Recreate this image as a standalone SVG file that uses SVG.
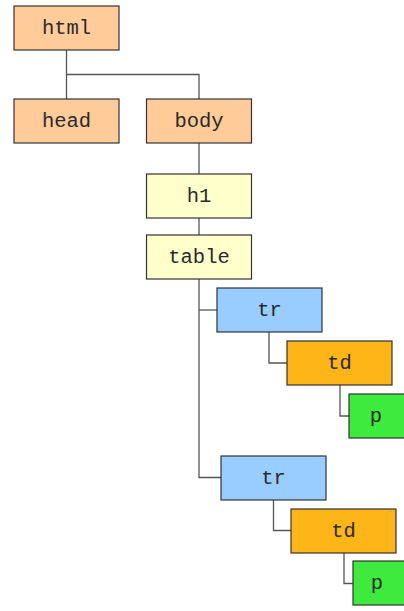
<svg xmlns="http://www.w3.org/2000/svg" width="404" height="611" viewBox="0 0 404 611">
<style>
  .box { stroke: #333; stroke-width: 1.2; }
  .peach { fill: #FFCC99; }
  .yellow { fill: #FFFFCC; }
  .blue { fill: #99CCFF; }
  .orange { fill: #FDB518; }
  .green { fill: #3DEA3D; }
  .lbl { font-family: "Liberation Mono", "Courier New", monospace; font-size: 20.5px; fill: #2a2a2a; text-anchor: middle; dominant-baseline: central; }
  .conn { fill: none; stroke: #555; stroke-width: 1.3; }
</style>
<rect width="404" height="611" fill="#fff"/>
<g id="connectors">
  <path class="conn" d="M66.5 50 V74.5 H199 V99"/>
  <path class="conn" d="M66.5 74.5 V99"/>
  <path class="conn" d="M199 143 V174"/>
  <path class="conn" d="M199 218 V235"/>
  <path class="conn" d="M199 279 V477.5 H221"/>
  <path class="conn" d="M199 310 H217"/>
  <path class="conn" d="M269 332 V363 H287"/>
  <path class="conn" d="M340 385 V416 H349"/>
  <path class="conn" d="M273.5 500 V530.5 H291"/>
  <path class="conn" d="M344 553 V583.5 H353"/>
</g>
<g id="html"><rect class="box peach" x="14" y="6" width="105" height="44"/><text class="lbl" x="66.5" y="28">html</text></g>
<g id="head"><rect class="box peach" x="14" y="99" width="105" height="44"/><text class="lbl" x="66.5" y="121">head</text></g>
<g id="body"><rect class="box peach" x="146.5" y="99" width="105" height="44"/><text class="lbl" x="199" y="121">body</text></g>
<g id="h1"><rect class="box yellow" x="146.5" y="174" width="105" height="44"/><text class="lbl" x="199" y="196">h1</text></g>
<g id="table"><rect class="box yellow" x="146.5" y="235" width="105" height="44"/><text class="lbl" x="199" y="257">table</text></g>
<g id="tr1"><rect class="box blue" x="217" y="288" width="105" height="44"/><text class="lbl" x="269.5" y="310">tr</text></g>
<g id="td1"><rect class="box orange" x="287" y="341" width="105" height="44"/><text class="lbl" x="339.5" y="363">td</text></g>
<g id="p1"><rect class="box green" x="349" y="394" width="105" height="44"/><text class="lbl" x="376" y="416">p</text></g>
<g id="tr2"><rect class="box blue" x="221" y="456" width="105" height="44"/><text class="lbl" x="273.5" y="478">tr</text></g>
<g id="td2"><rect class="box orange" x="291" y="509" width="105" height="44"/><text class="lbl" x="343.5" y="531">td</text></g>
<g id="p2"><rect class="box green" x="353" y="561" width="105" height="44"/><text class="lbl" x="377" y="583">p</text></g>
</svg>
